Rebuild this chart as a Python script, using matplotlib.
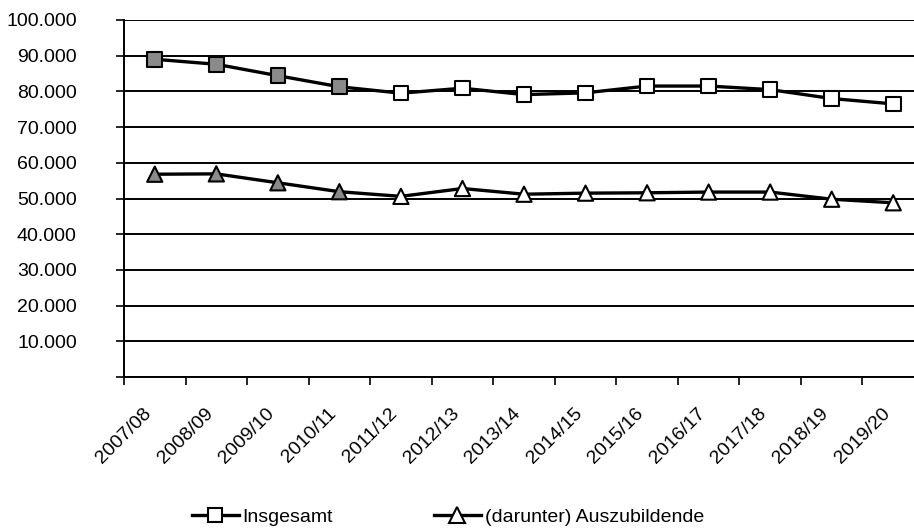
import numpy as np
import matplotlib as mpl
mpl.use("Agg")
import matplotlib.pyplot as plt


# ===========================================================
# Data
# ===========================================================
years = ["2007/08", "2008/09", "2009/10", "2010/11", "2011/12", "2012/13", "2013/14",
         "2014/15", "2015/16", "2016/17", "2017/18", "2018/19", "2019/20"]

insgesamt = [89000, 87600, 84400, 81300, 79500, 80900, 79100,
             79600, 81500, 81500, 80500, 78000, 76500]

azubi = [56800, 56900, 54400, 51900, 50600, 52800, 51200,
         51500, 51600, 51800, 51800, 49800, 48800]

y_ticks = [0, 10000, 20000, 30000, 40000, 50000, 60000, 70000, 80000, 90000, 100000]
y_labels = ["", "10.000", "20.000", "30.000", "40.000", "50.000",
            "60.000", "70.000", "80.000", "90.000", "100.000"]

# the first four points are greyed out in the original
n_grey = 4


# ===========================================================
# Matplotlib setup
# ===========================================================
mpl.rcParams.update({
    "font.family": "Liberation Sans",
    "font.size": 14,
})


fig = plt.figure(figsize=(9.14, 5.32), dpi=100)
ax = fig.add_axes([124 / 914, 1 - 377 / 532, 800 / 914, 357 / 532])

x = np.arange(len(years))

face_cols = ["#8a8a8a"] * n_grey + ["white"] * (len(years) - n_grey)

ax.plot(x, insgesamt, color="black", linewidth=2.4, zorder=3)
ax.scatter(x, insgesamt, marker="s", s=110, facecolors=face_cols,
           edgecolors="black", linewidths=1.5, zorder=4)

ax.plot(x, azubi, color="black", linewidth=2.4, zorder=3)
ax.scatter(x, azubi, marker="^", s=120, facecolors=face_cols,
           edgecolors="black", linewidths=1.5, zorder=4)

# legend proxies
ax.plot([], [], color="black", linewidth=2.4, marker="s", markersize=10,
        markerfacecolor="white", markeredgecolor="black", markeredgewidth=1.5,
        label="Insgesamt")
ax.plot([], [], color="black", linewidth=2.4, marker="^", markersize=11,
        markerfacecolor="white", markeredgecolor="black", markeredgewidth=1.5,
        label="(darunter) Auszubildende")

# y axis
ax.set_ylim(0, 100000)
ax.set_yticks(y_ticks)
ax.set_yticklabels(y_labels)
ax.yaxis.grid(True, color="black", linewidth=1.4)
ax.tick_params(axis="y", direction="out", length=6, width=1.2, pad=28, labelsize=14)

# x axis (category axis, ticks between categories)
ax.set_xlim(-0.5, len(years) - 0.5)
ax.set_xticks(x)
ax.set_xticklabels(years, rotation=45, ha="right")
ax.set_xticks(np.arange(-0.5, len(years), 1.0), minor=True)
ax.tick_params(axis="x", which="major", length=0, pad=20, labelsize=14)
ax.tick_params(axis="x", which="minor", direction="out", length=6, width=1.2)

for side in ["top", "right"]:
    ax.spines[side].set_visible(False)
ax.spines["left"].set_linewidth(1.4)
ax.spines["bottom"].set_linewidth(1.4)
ax.set_axisbelow(True)

fig.legend(loc="center", bbox_to_anchor=(0.49, 0.028), ncol=2, frameon=False,
           handlelength=2.4, handletextpad=0.2, columnspacing=5.2, fontsize=14)

fig.savefig("out.png", dpi=100)
